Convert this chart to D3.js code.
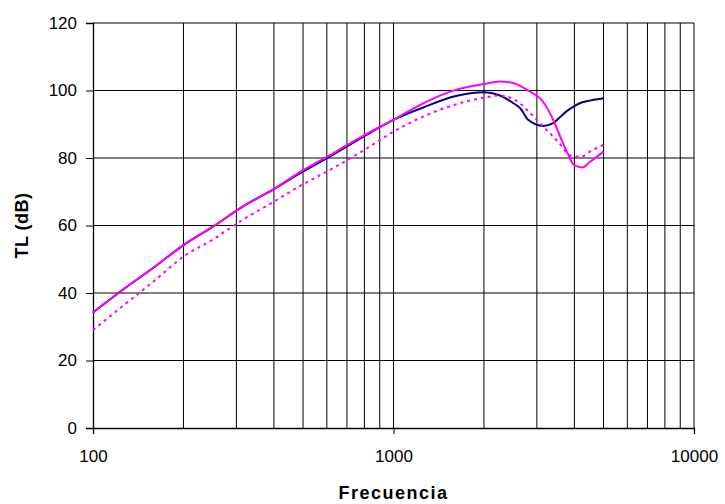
<!DOCTYPE html>
<html lang="es">
  <head>
    <meta charset="UTF-8" />
    <title>TL vs frecuencia</title>
    <style>
      body {
        margin: 0;
        background: #fff;
        font-family: "Liberation Sans", Arial, sans-serif;
      }
      .tick-label {
        font-size: 17px;
        fill: #000;
      }
      .axis-title {
        font-size: 18px;
        font-weight: bold;
        fill: #000;
      }
    </style>
  </head>
  <body>
    <script src="https://cdn.jsdelivr.net/npm/d3@7"></script>
    <script>
      // datos
      const freqs = [100, 125, 160, 200, 250, 315, 400, 500, 630, 800, 1000, 1250, 1600, 2000, 2250, 2500, 2650, 2800, 3150, 3400, 3600, 3800, 4000, 4250, 4500, 5000];
      const tlAzul = [34.2, 40.8, 47.7, 54.2, 59.6, 65.6, 70.8, 76.0, 81.0, 86.5, 91.3, 94.9, 98.3, 99.5, 98.6, 96.3, 94.6, 91.4, 89.5, 90.3, 92.3, 94.1, 95.4, 96.5, 97.0, 97.7];
      const tlMagenta = [34.2, 40.8, 47.7, 54.2, 59.6, 65.6, 70.8, 76.4, 81.4, 86.8, 91.3, 96.1, 100.1, 101.9, 102.7, 102.2, 101.3, 100.0, 96.6, 91.3, 86.0, 81.3, 77.8, 77.2, 78.8, 81.9];
      const tlPunteado = [29.0, 36.0, 43.6, 50.8, 55.8, 61.7, 67.1, 72.2, 77.0, 82.4, 87.8, 92.2, 95.8, 97.9, 98.5, 97.5, 96.0, 94.0, 89.3, 86.3, 83.9, 81.3, 80.4, 80.5, 81.9, 83.9];
      const yTicks = [0, 20, 40, 60, 80, 100, 120];
      const xTicks = [100, 1000, 10000];

      const width = 725;
      const height = 504;
      const plotLeft = 93;
      const plotRight = 694;
      const plotTop = 23;
      const plotBottom = 428;

      const svg = d3.select("body").append("svg")
        .attr("width", width)
        .attr("height", height);

      const x = d3.scaleLog().domain([100, 10000]).range([plotLeft, plotRight]);
      const y = d3.scaleLinear().domain([0, 120]).range([plotBottom, plotTop]);

      // rejilla vertical (todas las lineas de la escala log)
      const vLines = [];
      for (let d = 100; d < 10000; d *= 10) {
        for (let k = 2; k <= 10; k++) vLines.push(d * k);
      }
      svg.append("g")
        .attr("stroke", "#000")
        .attr("stroke-width", 1)
        .selectAll("line")
        .data(vLines)
        .join("line")
        .attr("x1", d => x(d))
        .attr("x2", d => x(d))
        .attr("y1", plotTop)
        .attr("y2", plotBottom);

      // rejilla horizontal
      svg.append("g")
        .attr("stroke", "#000")
        .attr("stroke-width", 1)
        .selectAll("line")
        .data(yTicks.filter(v => v > 0))
        .join("line")
        .attr("x1", plotLeft)
        .attr("x2", plotRight)
        .attr("y1", d => y(d))
        .attr("y2", d => y(d));

      // ejes
      const yAxis = svg.append("g")
        .attr("transform", `translate(${plotLeft},0)`)
        .call(d3.axisLeft(y).tickValues(yTicks).tickSize(7).tickPadding(9));
      const xAxis = svg.append("g")
        .attr("transform", `translate(0,${plotBottom})`)
        .call(d3.axisBottom(x).tickValues(xTicks).tickFormat(d3.format("d")).tickSize(6).tickPadding(16));

      [yAxis, xAxis].forEach(g => {
        g.attr("font-family", null).attr("font-size", null);
        g.select(".domain").attr("stroke", "#000").attr("stroke-width", 1.3);
        g.selectAll(".tick line").attr("stroke", "#000");
        g.selectAll("text").attr("class", "tick-label");
      });

      // curvas (la azul debajo de la magenta)
      const series = [
        { values: tlAzul, color: "#000080", dash: null },
        { values: tlMagenta, color: "#ff00ff", dash: null },
        { values: tlPunteado, color: "#ff00ff", dash: "3,4" }
      ];
      const line = d3.line()
        .x((d, i) => x(freqs[i]))
        .y(d => y(d))
        .curve(d3.curveMonotoneX);

      svg.append("g")
        .selectAll("path")
        .data(series)
        .join("path")
        .attr("fill", "none")
        .attr("stroke", d => d.color)
        .attr("stroke-width", 2)
        .attr("stroke-dasharray", d => d.dash)
        .attr("d", d => line(d.values));

      // titulos
      svg.append("text")
        .attr("class", "axis-title")
        .attr("x", (plotLeft + plotRight) / 2)
        .attr("y", 499)
        .attr("text-anchor", "middle")
        .style("letter-spacing", "1.5px")
        .text("Frecuencia");

      svg.append("text")
        .attr("class", "axis-title")
        .attr("transform", `translate(28,${(plotTop + plotBottom) / 2}) rotate(-90)`)
        .attr("text-anchor", "middle")
        .style("letter-spacing", "0.5px")
        .text("TL (dB)");
    </script>
  </body>
</html>
